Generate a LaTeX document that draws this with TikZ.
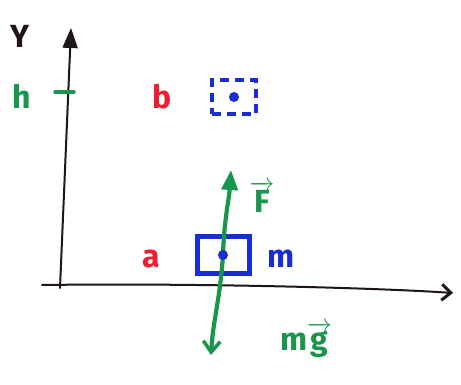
\documentclass[tikz,border=0pt]{standalone}
\usepackage{amsmath}
\usepackage{fontspec}
\setmainfont{Fira Sans}
\usetikzlibrary{arrows.meta}
\definecolor{pgreen}{RGB}{25,150,75}
\definecolor{pblue}{RGB}{25,45,215}
\definecolor{pred}{RGB}{235,30,50}
\definecolor{pblack}{RGB}{30,20,25}
\tikzset{
  axisline/.style={draw=pblack,line width=2pt,line cap=round},
  force/.style={draw=pgreen,line width=4.2pt,line cap=round},
  lbl/.style={font=\fontsize{32}{34}\selectfont\bfseries,inner sep=0pt},
  block/.style={draw=pblue,line width=5pt,minimum width=52pt,minimum height=36pt,inner sep=0pt},
  ghost/.style={draw=pblue,line width=4pt,dash pattern=on 9pt off 6pt,minimum width=44pt,minimum height=34pt,inner sep=0pt},
  dotc/.style={circle,fill=pblue,minimum size=10pt,inner sep=0pt}
}
\begin{document}
\begin{tikzpicture}[x=1pt,y=-1pt]
\useasboundingbox[fill=white] (0,0) rectangle (461,385);
% axes
\coordinate (o) at (60,288);
\coordinate (ytop) at (71,28);
\coordinate (xleft) at (42,285);
\coordinate (xright) at (453,293);
\draw[axisline,-{Triangle[length=20pt,width=15pt]}] (o) -- (ytop);
\draw[axisline,-{Straight Barb[length=9pt,width=16pt,line width=3pt]}] (xleft) .. controls (200,283) and (380,288) .. (xright);
\node[lbl,text=pblack] (ylab) at (20,36) {Y};
% height tick
\node[lbl,text=pgreen] (hlab) at (22,96) {h};
\coordinate (t1) at (55,92);
\coordinate (t2) at (74,92);
\draw[force,line width=3.5pt] (t1) -- (t2);
% position b
\node[lbl,text=pred] (blab) at (162,97) {b};
\node[ghost] (ghostbox) at (234,97) {};
\node[dotc] (ghostdot) at (234,97) {};
% position a
\node[lbl,text=pred] (alab) at (151,259) {a};
\node[block] (blk) at (223,255) {};
\node[lbl,text=pblue] (mlab) at (281,259) {m};
% forces
\coordinate (ftip) at (231,170);
\coordinate (gtip) at (211,355);
\draw[force,-{Triangle[length=20pt,width=16pt]}] (blk.center) .. controls (224,220) and (229,200) .. (ftip);
\draw[force,-{Straight Barb[length=11pt,width=17pt,line width=3.5pt]}] (blk.center) .. controls (220,300) and (213,320) .. (gtip);
\node[dotc] (blkdot) at (blk.center) {};
\node[lbl,text=pgreen] (flab) at (262,197) {$\overrightarrow{\text{F}}$};
\node[lbl,text=pgreen] (mglab) at (306,340) {m$\overrightarrow{\text{g}}$};
\end{tikzpicture}
\end{document}
